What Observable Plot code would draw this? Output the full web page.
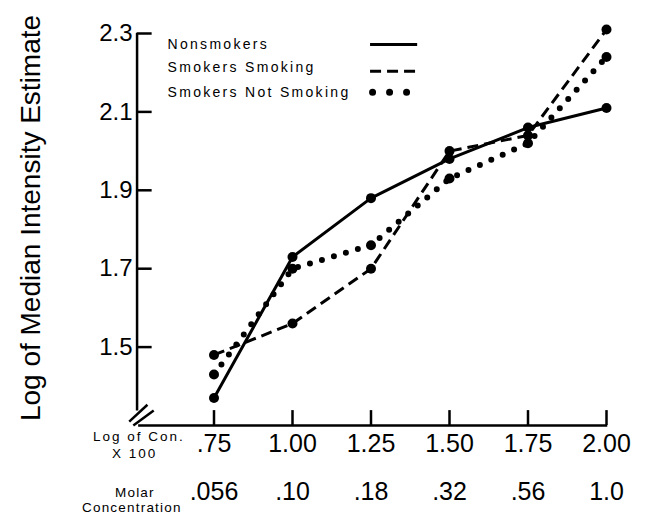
<!DOCTYPE html>
<html><head><meta charset="utf-8">
<script src="https://cdn.jsdelivr.net/npm/d3@7"></script>
<script src="https://cdn.jsdelivr.net/npm/@observablehq/plot@0.6"></script>
<style>
html,body{margin:0;padding:0;background:#fff;}
#chart svg{display:block;}
#chart g[font-size="14"] text{letter-spacing:2.3px;}
</style></head>
<body><div id="chart"></div>
<script>
// Data
const logCon = [0.75, 1.00, 1.25, 1.50, 1.75, 2.00];
const logConLabels = [".75", "1.00", "1.25", "1.50", "1.75", "2.00"];
const molarLabels = [".056", ".10", ".18", ".32", ".56", "1.0"];
const yTicks = [1.5, 1.7, 1.9, 2.1, 2.3];
const seriesNames = ["Nonsmokers", "Smokers Smoking", "Smokers Not Smoking"];
const nonsmokers = [1.37, 1.73, 1.88, 1.98, 2.06, 2.11];
const smokersSmoking = [1.48, 1.56, 1.70, 2.00, 2.04, 2.31];
const smokersNotSmoking = [1.43, 1.70, 1.76, 1.93, 2.02, 2.24];

const seriesValues = [nonsmokers, smokersSmoking, smokersNotSmoking];
const dashes = [null, "11,6", "0,12.5"];
const widths = [3, 3, 6];

const rows = [];
seriesNames.forEach((s, i) => logCon.forEach((x, j) => rows.push({series: s, x, y: seriesValues[i][j]})));

const font = "'Liberation Sans', Arial, Helvetica, sans-serif";
const yMin = 1.3, yMax = 2.3, xMin = 0.5, xMax = 2.0;

// legend layout (data units)
const legendTextY = [2.272, 2.213, 2.149];
const legendY = [2.272, 2.204, 2.150];
const legendTextX = 0.602;
const legendX1 = [1.247, 1.247, 1.255];
const legendX2 = [1.397, 1.397, 1.370];

const marks = [];
// axes
marks.push(Plot.ruleX([xMin + 0.005], {y1: 1.337, y2: yMax, stroke: "black", strokeWidth: 2.5}));
marks.push(Plot.ruleY([yMin], {x1: xMin + 0.01, x2: xMax + 0.004, stroke: "black", strokeWidth: 2.5}));
marks.push(Plot.ruleY(yTicks, {x1: xMin + 0.005, x2: xMin + 0.053, stroke: "black", strokeWidth: 2.5}));
marks.push(Plot.ruleX(logCon, {y1: yMin, y2: yMin + 0.038, stroke: "black", strokeWidth: 2.5}));
// break marks
marks.push(Plot.link([0, 1], {x1: d => 0.480 + d*0.013, y1: d => 1.310 - d*0.01, x2: d => 0.538 + d*0.02, y2: d => 1.353 - d*0.015, stroke: "black", strokeWidth: 2.5}));
// y tick labels
marks.push(Plot.text(yTicks, {x: xMin, y: d => d, text: d => d.toFixed(1), textAnchor: "end", dx: -3, fontSize: 24}));
// x tick labels
marks.push(Plot.text(logCon, {x: d => d, y: yMin, text: (d, i) => logConLabels[i], dy: 18, fontSize: 25}));
marks.push(Plot.text(logCon, {x: d => d, y: yMin, text: (d, i) => molarLabels[i], dy: 66, fontSize: 25}));
// lines
seriesNames.forEach((s, i) => {
  marks.push(Plot.line(rows.filter(r => r.series === s), {x: "x", y: "y", stroke: "black", strokeWidth: widths[i], strokeDasharray: dashes[i], strokeLinecap: i === 2 ? "round" : "butt"}));
});
marks.push(Plot.dot(rows, {x: "x", y: "y", r: 5, fill: "black"}));
// legend
marks.push(Plot.text(seriesNames, {x: legendTextX, y: (d, i) => legendTextY[i], text: d => d, textAnchor: "start", fontSize: 14}));
seriesNames.forEach((s, i) => {
  marks.push(Plot.link([s], {x1: legendX1[i], x2: legendX2[i], y1: legendY[i], y2: legendY[i], stroke: "black", strokeWidth: widths[i] + (i===2?1:0), strokeDasharray: i === 2 ? "0,17" : dashes[i], strokeLinecap: i === 2 ? "round" : "butt"}));
});

const chart = Plot.plot({
  width: 650, height: 515,
  marginLeft: 135, marginRight: 44, marginTop: 33, marginBottom: 90,
  x: {domain: [xMin, xMax], axis: null},
  y: {domain: [yMin, yMax], axis: null},
  style: {fontFamily: font, color: "black", background: "white", overflow: "visible"},
  marks
});
const svg = d3.select(chart);
svg.append("text").attr("transform", "translate(40,218) rotate(-90)").attr("text-anchor", "middle")
  .attr("font-size", 28).attr("font-family", font).text("Log of Median Intensity Estimate");
const lc = svg.append("text").attr("font-size", 13.5).attr("font-family", font).attr("text-anchor", "start").style("letter-spacing", "2px");
lc.append("tspan").attr("x", 93).attr("y", 441).text("Log of Con.");
lc.append("tspan").attr("x", 112).attr("y", 458).text("X 100");
const mc = svg.append("text").attr("font-size", 13.5).attr("font-family", font).attr("text-anchor", "start").style("letter-spacing", "1.2px");
mc.append("tspan").attr("x", 115).attr("y", 497).text("Molar");
mc.append("tspan").attr("x", 82).attr("y", 512).text("Concentration");
document.getElementById("chart").append(chart);
</script></body></html>
